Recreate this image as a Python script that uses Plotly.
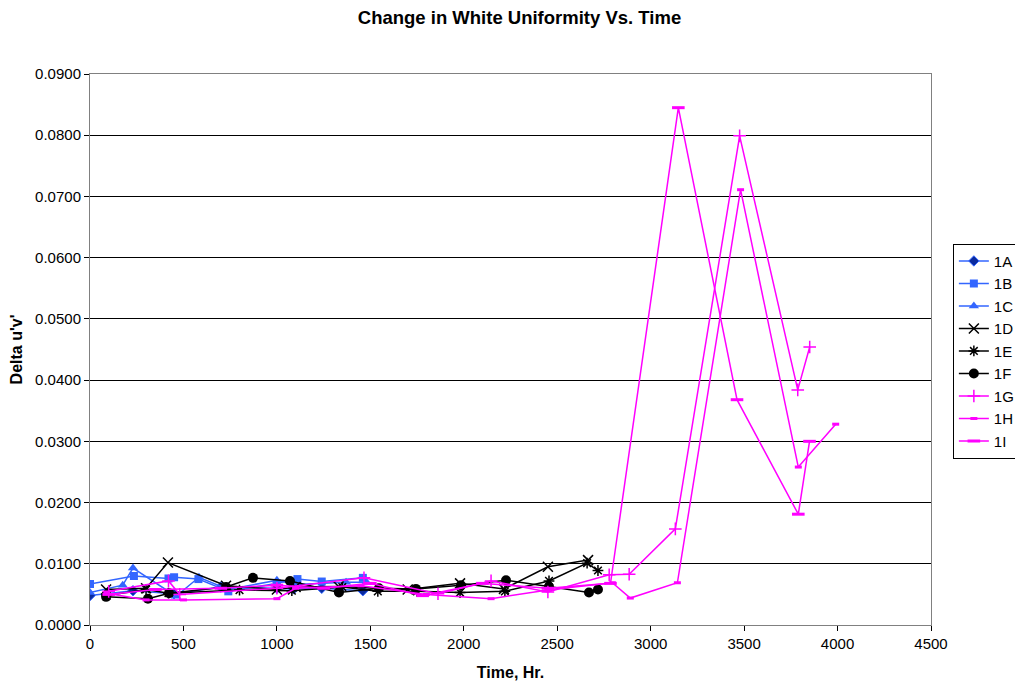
import plotly.graph_objects as go

# Serii de date (timp [h], delta u'v')
x_1a = [0, 230, 450, 700, 1000, 1090, 1240, 1460]
y_1a = [0.0048, 0.0056, 0.0051, 0.0062, 0.0060, 0.0059, 0.0060, 0.0056]

x_1b = [0, 235, 420, 450, 580, 740, 1000, 1110, 1240, 1460]
y_1b = [0.0067, 0.0080, 0.0076, 0.0078, 0.0075, 0.0055, 0.0068, 0.0075, 0.0071, 0.0077]

x_1c = [0, 175, 230, 460, 583, 740, 1000, 1100, 1370, 1480]
y_1c = [0.0053, 0.0065, 0.0093, 0.0047, 0.0078, 0.0058, 0.0073, 0.0066, 0.0070, 0.0070]

x_1d = [86, 300, 417, 728, 1000, 1100, 1330, 1700, 1980, 2215, 2450, 2665]
y_1d = [0.0058, 0.0060, 0.0102, 0.0064, 0.0058, 0.0062, 0.0063, 0.0058, 0.0068, 0.0059, 0.0095, 0.0106]

x_1e = [90, 300, 420, 800, 1080, 1350, 1540, 1750, 1980, 2220, 2456, 2660, 2718]
y_1e = [0.0048, 0.0058, 0.0052, 0.0057, 0.0056, 0.0062, 0.0055, 0.0055, 0.0053, 0.0055, 0.0072, 0.0101, 0.0089]

x_1f = [86, 310, 423, 728, 872, 1070, 1332, 1546, 1744, 1985, 2226, 2456, 2670, 2718]
y_1f = [0.0046, 0.0043, 0.0052, 0.0062, 0.0077, 0.0072, 0.0053, 0.0060, 0.0059, 0.0065, 0.0073, 0.0063, 0.0053, 0.0058]

x_1g = [100, 420, 480, 1000, 1466, 1862, 2146, 2450, 2778, 2885, 3132, 3476, 3787, 3851]
y_1g = [0.0055, 0.0072, 0.0050, 0.0060, 0.0077, 0.0051, 0.0072, 0.0054, 0.0082, 0.0083, 0.0157, 0.0799, 0.0384, 0.0454]

x_1h = [90, 300, 500, 1000, 1100, 1450, 1800, 2146, 2450, 2795, 2891, 3143, 3481, 3790, 3990]
y_1h = [0.0052, 0.0041, 0.0041, 0.0043, 0.0060, 0.0064, 0.0050, 0.0043, 0.0057, 0.0069, 0.0044, 0.0069, 0.0711, 0.0258, 0.0328]

x_1i = [100, 350, 700, 1000, 1250, 1500, 1780, 2100, 2450, 2785, 3148, 3462, 3790, 3850]
y_1i = [0.0050, 0.0058, 0.0060, 0.0065, 0.0060, 0.0068, 0.0048, 0.0068, 0.0060, 0.0068, 0.0845, 0.0368, 0.0181, 0.0300]

BLUE = "#3366FF"
BLACK = "#000000"
PINK = "#FF00FF"

SERIES = [
    ("1A", x_1a, y_1a, BLUE, dict(symbol="diamond", size=8, color="#0A2A9E", line=dict(color=BLUE, width=1))),
    ("1B", x_1b, y_1b, BLUE, dict(symbol="square", size=8, color=BLUE)),
    ("1C", x_1c, y_1c, BLUE, dict(symbol="triangle-up", size=9, color=BLUE)),
    ("1D", x_1d, y_1d, BLACK, dict(symbol="x-thin", size=10, color=BLACK, line=dict(color=BLACK, width=1.5))),
    ("1E", x_1e, y_1e, BLACK, dict(symbol="asterisk", size=9, color=BLACK, line=dict(color=BLACK, width=1.5))),
    ("1F", x_1f, y_1f, BLACK, dict(symbol="circle", size=10, color=BLACK)),
    ("1G", x_1g, y_1g, PINK, dict(symbol="cross-thin", size=9, color=PINK, line=dict(color=PINK, width=1.5))),
    ("1H", x_1h, y_1h, PINK, dict(symbol="line-ew", size=5, color=PINK, line=dict(color=PINK, width=3))),
    ("1I", x_1i, y_1i, PINK, dict(symbol="line-ew", size=9, color=PINK, line=dict(color=PINK, width=3))),
]

FONT = "Arial, Liberation Sans, sans-serif"

fig = go.Figure()
for name, xs, ys, color, marker in SERIES:
    fig.add_trace(go.Scatter(x=xs, y=ys, mode="lines+markers", name=name,
                             line=dict(color=color, width=1.5), marker=marker))

fig.update_layout(
    width=1023, height=683,
    font=dict(family=FONT, size=14, color="#000000"),
    paper_bgcolor="white", plot_bgcolor="white",
    margin=dict(l=82, r=100, t=66, b=66, autoexpand=False),
    title=dict(text="<b>Change in White Uniformity Vs. Time</b>", x=0.5, xanchor="center",
               y=0.995, yanchor="top", font=dict(size=18.5)),
    legend=dict(x=1.026, xanchor="left", y=0.692, yanchor="top",
                bordercolor="#000000", borderwidth=1, bgcolor="white",
                font=dict(size=15), tracegroupgap=0, itemwidth=30),
    showlegend=True,
)
fig.update_xaxes(range=[0, 4500], dtick=500, tick0=0, showgrid=False, automargin=False,
                 ticks="outside", ticklen=5, tickcolor="#000000", tickfont=dict(size=15),
                 showline=True, linecolor="#808080", linewidth=1, mirror=True,
                 zeroline=False,
                 title=dict(text="<b>Time, Hr.</b>", font=dict(size=16), standoff=15))
fig.update_yaxes(range=[0, 0.09], dtick=0.01, tick0=0, tickformat=".4f", automargin=False,
                 showgrid=True, gridcolor="#000000", gridwidth=1,
                 ticks="outside", ticklen=5, tickcolor="#000000", tickfont=dict(size=15),
                 showline=True, linecolor="#808080", linewidth=1, mirror=True,
                 zeroline=False,
                 title=dict(text="<b>Delta u'v'</b>", font=dict(size=16), standoff=8))

fig.write_html("out.html")
